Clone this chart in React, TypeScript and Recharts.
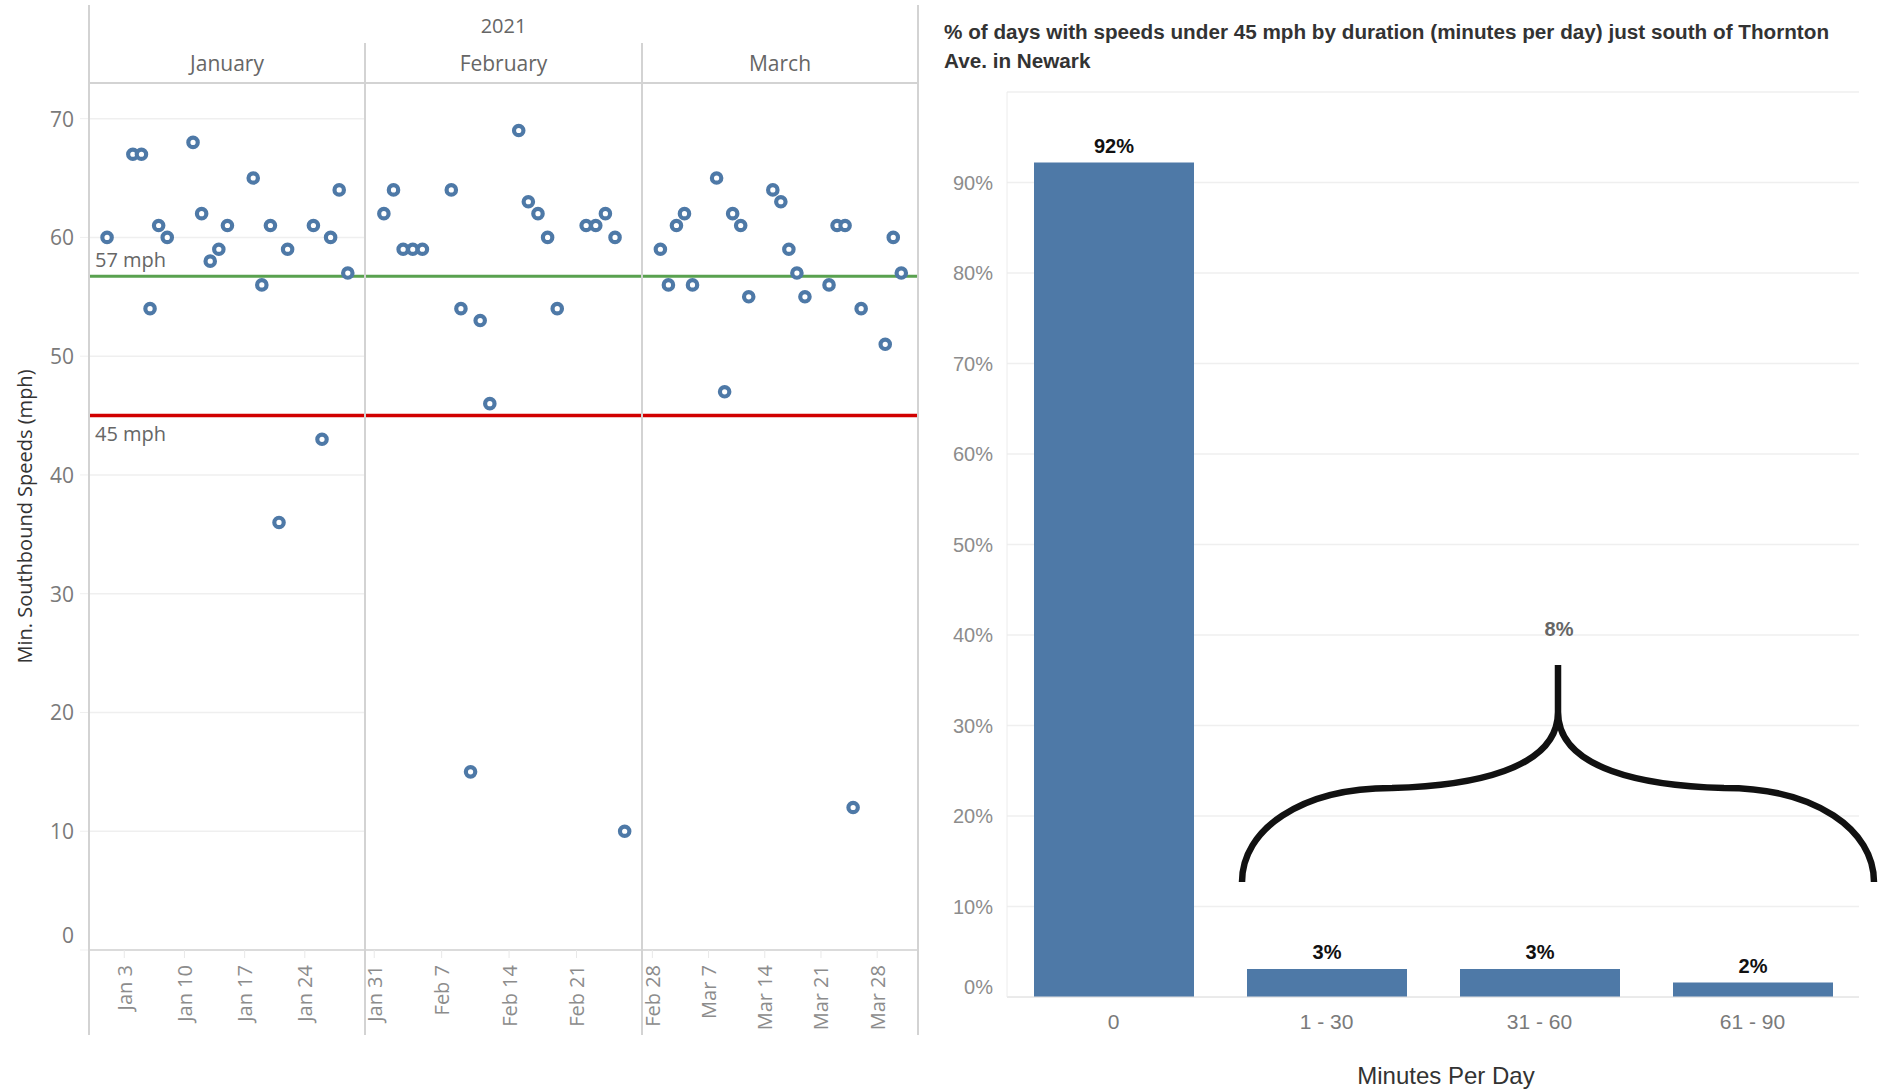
import React from "react";
import {
  ScatterChart,
  Scatter,
  XAxis,
  YAxis,
  CartesianGrid,
  ReferenceLine,
  BarChart,
  Bar,
  LabelList,
} from "recharts";

// weekday minimum southbound speeds, Jan - Mar 2021
const janDays = [1, 4, 5, 6, 7, 8, 11, 12, 13, 14, 15, 18, 19, 20, 21, 22, 25, 26, 27, 28, 29];
const janSpeeds = [60, 67, 67, 54, 61, 60, 68, 62, 58, 59, 61, 65, 56, 61, 36, 59, 61, 43, 60, 64, 57];
const febDays = [1, 2, 3, 4, 5, 8, 9, 10, 11, 12, 15, 16, 17, 18, 19, 22, 23, 24, 25, 26];
const febSpeeds = [62, 64, 59, 59, 59, 64, 54, 15, 53, 46, 69, 63, 62, 60, 54, 61, 61, 62, 60, 10];
const marDays = [1, 2, 3, 4, 5, 8, 9, 10, 11, 12, 15, 16, 17, 18, 19, 22, 23, 24, 25, 26, 29, 30, 31];
const marSpeeds = [59, 56, 61, 62, 56, 65, 47, 62, 61, 55, 64, 63, 59, 57, 55, 56, 61, 61, 12, 54, 51, 60, 57];

const speedTicks = [0, 10, 20, 30, 40, 50, 60, 70];
// tick positions are day-of-year
const janTicks = [3, 10, 17, 24];
const janTickLabels = ["Jan 3", "Jan 10", "Jan 17", "Jan 24"];
const febTicks = [31, 38, 45, 52];
const febTickLabels = ["Jan 31", "Feb 7", "Feb 14", "Feb 21"];
const marTicks = [59, 66, 73, 80, 87];
const marTickLabels = ["Feb 28", "Mar 7", "Mar 14", "Mar 21", "Mar 28"];

const durationBins = ["0", "1 - 30", "31 - 60", "61 - 90"];
const dayShare = [92.2, 3.1, 3.1, 1.6];
const shareTicks = [0, 10, 20, 30, 40, 50, 60, 70, 80, 90];

const SLOW_MPH = 45;

const FONT = "'Open Sans', sans-serif";
const FONT_R = "'Liberation Sans', Arial, sans-serif";
const BLUE = "#4e79a7";
const FRAME = "#d3d3d3";
const PAD = 20; // room left of panes 2 and 3 so their first tick label is not clipped

const allSpeeds = [...janSpeeds, ...febSpeeds, ...marSpeeds];
const avgSpeed = allSpeeds.reduce((a, b) => a + b, 0) / allSpeeds.length;

const panes = [
  { month: "January", days: janDays, speeds: janSpeeds, offset: 0, domain: [-1.1, 31], ticks: janTicks, labels: janTickLabels, left: 0, width: 365 },
  { month: "February", days: febDays, speeds: febSpeeds, offset: 31, domain: [30.04, 58.8], ticks: febTicks, labels: febTickLabels, left: 365, width: 277 },
  { month: "March", days: marDays, speeds: marSpeeds, offset: 59, domain: [57.71, 92.08], ticks: marTicks, labels: marTickLabels, left: 642, width: 276 },
];

const barData = durationBins.map((bin, i) => ({ bin, share: dayShare[i] }));

const Ring = (props: any) => (
  <circle cx={props.cx} cy={props.cy} r={4.7} fill="#fff" stroke={BLUE} strokeWidth={4.2} />
);

function makeDateTick(ticks: number[], labels: string[]) {
  return (props: any) => {
    const { x, y, payload } = props;
    const label = labels[ticks.indexOf(payload.value)] ?? "";
    return (
      <text
        x={x}
        y={y}
        transform={`rotate(-90, ${x}, ${y})`}
        textAnchor="end"
        dominantBaseline="central"
        fill="#8c8c8c"
        fontSize={20}
        fontFamily={FONT}
      >
        {label}
      </text>
    );
  };
}

const SpeedTick = (props: any) => {
  const { x, y, payload } = props;
  return (
    <text
      x={x}
      y={payload.value === 0 ? y - 15 : y}
      textAnchor="end"
      dominantBaseline="central"
      fill="#7a7a7a"
      fontSize={21}
      fontFamily={FONT}
    >
      {payload.value}
    </text>
  );
};

const SpeedTitle = (props: any) => {
  const vb = props.viewBox || { y: 0, height: 867 };
  const cy = vb.y + vb.height / 2;
  return (
    <text
      x={24}
      y={cy}
      transform={`rotate(-90, 24, ${cy})`}
      textAnchor="middle"
      dominantBaseline="central"
      fill="#333"
      fontSize={20}
      fontFamily={FONT}
    >
      Min. Southbound Speeds (mph)
    </text>
  );
};

const lineLabel = (text: string, dy: number) => (props: any) => {
  const vb = props.viewBox || { x: 0, y: 0 };
  return (
    <text x={vb.x + 6} y={vb.y + dy} fill="#666" fontSize={20} fontFamily={FONT}>
      {text}
    </text>
  );
};

function MonthPane({ pane, first }: { pane: any; first: boolean }) {
  const data = pane.days.map((d: number, i: number) => ({ day: d + pane.offset, speed: pane.speeds[i] }));
  const padLeft = first ? 0 : PAD;
  return (
    <ScatterChart width={pane.width + padLeft} height={952} margin={{ top: 0, right: 0, bottom: 0, left: padLeft }}>
      <CartesianGrid vertical={false} stroke="#efefef" strokeWidth={1.5} />
      <XAxis
        type="number"
        dataKey="day"
        domain={pane.domain}
        ticks={pane.ticks}
        interval={0}
        allowDataOverflow
        height={85}
        axisLine={{ stroke: FRAME, strokeWidth: 1.5 }}
        tickLine={{ stroke: "#e8e8e8" }}
        tickSize={8}
        tickMargin={7}
        tick={makeDateTick(pane.ticks, pane.labels)}
      />
      <YAxis
        type="number"
        dataKey="speed"
        domain={[0, 73]}
        ticks={speedTicks}
        allowDataOverflow
        width={first ? 89 : 0}
        axisLine={false}
        tickLine={first ? { stroke: "#efefef" } : false}
        tickSize={9}
        tickMargin={6}
        tick={first ? SpeedTick : false}
        label={first ? { content: SpeedTitle } : undefined}
      />
      <ReferenceLine
        y={avgSpeed}
        stroke="#59a14f"
        strokeWidth={3}
        label={first ? { content: lineLabel(`${Math.round(avgSpeed)} mph`, -9) } : undefined}
      />
      <ReferenceLine
        y={SLOW_MPH}
        stroke="#d10000"
        strokeWidth={3.5}
        label={first ? { content: lineLabel(`${SLOW_MPH} mph`, 25) } : undefined}
      />
      <Scatter data={data} shape={Ring} isAnimationActive={false} />
    </ScatterChart>
  );
}

const ShareTick = (props: any) => {
  const { x, y, payload } = props;
  return (
    <text
      x={x}
      y={payload.value === 0 ? y - 10 : y}
      textAnchor="end"
      dominantBaseline="central"
      fill="#8c8c8c"
      fontSize={20}
      fontFamily={FONT_R}
    >
      {payload.value}%
    </text>
  );
};

const MinutesTitle = (props: any) => {
  const vb = props.viewBox || { x: 67, y: 917, width: 852, height: 94 };
  return (
    <text
      x={vb.x + vb.width / 2 + 13}
      y={vb.y + 78}
      textAnchor="middle"
      dominantBaseline="central"
      fill="#333"
      fontSize={24}
      fontFamily={FONT_R}
    >
      Minutes Per Day
    </text>
  );
};

const BarValue = (props: any) => {
  const { x, y, width, value } = props;
  return (
    <text
      x={Number(x) + Number(width) / 2}
      y={Number(y) - 10}
      textAnchor="middle"
      fill="#111"
      fontSize={20}
      fontWeight="bold"
      fontFamily={FONT_R}
    >
      {Math.round(value)}%
    </text>
  );
};

const vline = (x: number, top: number, bottom: number) => (
  <div style={{ position: "absolute", left: x - 1, top, width: 2, height: bottom - top, background: FRAME }} />
);

export default function App() {
  const slowShare = dayShare.slice(1).reduce((a, b) => a + b, 0);
  return (
    <div style={{ position: "absolute", left: 0, top: 0, width: 1879, height: 1091, background: "#fff", overflow: "hidden" }}>
      {/* left: speeds by day */}
      <div style={{ position: "absolute", left: 89, top: 12, width: 829, textAlign: "center", color: "#666", fontSize: 20, fontFamily: FONT }}>
        2021
      </div>
      {panes.map((p, i) => {
        const plotLeft = i === 0 ? 89 : p.left;
        return (
          <div
            key={p.month}
            style={{ position: "absolute", left: plotLeft, top: 49, width: p.left + p.width - plotLeft, textAlign: "center", color: "#666", fontSize: 21, fontFamily: FONT }}
          >
            {p.month}
          </div>
        );
      })}
      {panes.map((p, i) => (
        <div key={p.month + "c"} style={{ position: "absolute", left: i === 0 ? p.left : p.left - PAD, top: 83 }}>
          <MonthPane pane={p} first={i === 0} />
        </div>
      ))}
      <div style={{ position: "absolute", left: 89, top: 82, width: 829, height: 1.5, background: FRAME }} />
      {vline(89, 5, 1035)}
      {vline(365, 43, 1035)}
      {vline(642, 43, 1035)}
      {vline(918, 5, 1035)}

      {/* right: share of days by duration */}
      <div style={{ position: "absolute", left: 944, top: 17, color: "#333", fontSize: 20.7, fontWeight: "bold", lineHeight: "29px", fontFamily: FONT_R, whiteSpace: "nowrap" }}>
        % of days with speeds under 45 mph by duration (minutes per day) just south of Thornton
        <br />
        Ave. in Newark
      </div>
      <div style={{ position: "absolute", left: 940, top: 80 }}>
        <BarChart width={939} height={1011} data={barData} margin={{ top: 12, right: 20, bottom: 0, left: 0 }} barSize={160}>
          <CartesianGrid vertical={false} stroke="#efefef" strokeWidth={1.5} />
          <XAxis
            dataKey="bin"
            height={94}
            axisLine={{ stroke: "#e2e2e2" }}
            tickLine={false}
            tickSize={0}
            tickMargin={17}
            tick={{ fill: "#7a7a7a", fontSize: 21, fontFamily: FONT_R }}
            label={{ content: MinutesTitle }}
          />
          <YAxis
            type="number"
            domain={[0, 100]}
            ticks={shareTicks}
            width={67}
            axisLine={{ stroke: "#ececec" }}
            tickLine={false}
            tickSize={0}
            tickMargin={14}
            tick={ShareTick}
          />
          <Bar dataKey="share" fill={BLUE} isAnimationActive={false}>
            <LabelList dataKey="share" content={BarValue} />
          </Bar>
        </BarChart>
      </div>
      <svg width={1879} height={1091} style={{ position: "absolute", left: 0, top: 0, pointerEvents: "none" }}>
        <path
          d="M 1242 882 C 1242 830, 1300 788, 1392 788 C 1470 786, 1558 770, 1558 712 L 1558 665 M 1558 712 C 1558 770, 1646 786, 1724 788 C 1816 788, 1874 830, 1874 882"
          fill="none"
          stroke="#111"
          strokeWidth={6.5}
        />
        <text x={1559} y={629} textAnchor="middle" dominantBaseline="central" fill="#666" fontSize={20} fontWeight="bold" fontFamily={FONT_R}>
          {Math.round(slowShare)}%
        </text>
      </svg>
    </div>
  );
}
